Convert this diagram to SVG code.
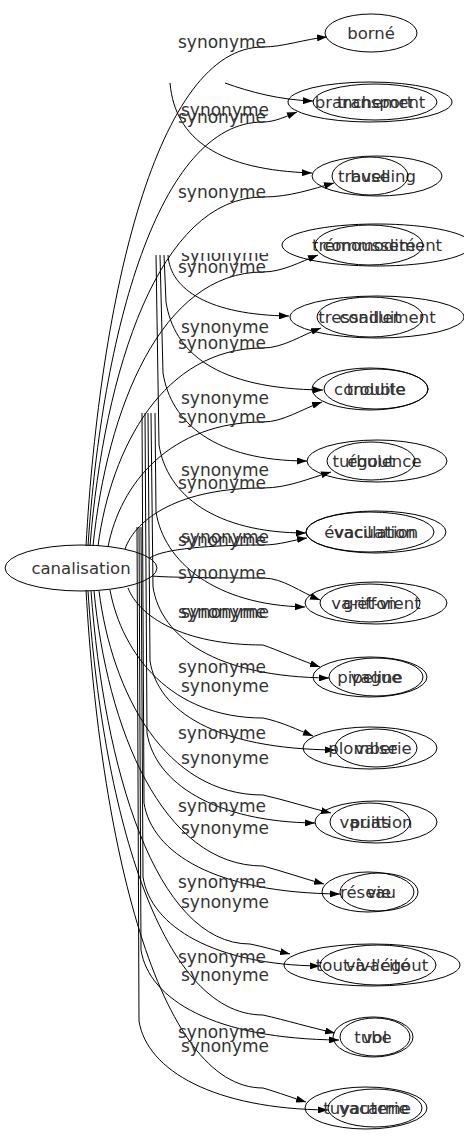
<svg xmlns="http://www.w3.org/2000/svg" width="464" height="1139" viewBox="0 0 464 1139">
<style>
.n ellipse{fill:none;stroke:#000;stroke-width:1}
.n text{font-family:"DejaVu Sans",sans-serif;font-size:16.5px;fill:#333;text-anchor:middle}
.e path{fill:none;stroke:#000;stroke-width:1;marker-end:url(#ah)}
.lb text{font-family:"DejaVu Sans",sans-serif;font-size:17px;fill:#333;text-anchor:middle}
</style>
<defs>
<marker id="ah" markerWidth="10" markerHeight="7" refX="10" refY="3.5" orient="auto" markerUnits="userSpaceOnUse"><path d="M0,0 L10,3.5 L0,7 z" fill="#000"/></marker>
<clipPath id="cut255"><rect x="150" y="253" width="150" height="30"/></clipPath>
</defs>
<rect width="464" height="1139" fill="#fff"/>
<g class="e" id="edges">
<path d="M86,546 C100,297 157,47 263,47 C283,47 305,39 327,37"/>
<path d="M88,546 C102,334 158,122 263,122 C275,122 287,116 297,112"/>
<path d="M90,546 C104,371 159,197 263,197 C290,197 312,189 334,183"/>
<path d="M93,546 C107,409 161,272 263,272 C282,272 300,262 318,255"/>
<path d="M98,546 C111,447 164,348 263,348 C283,348 302,335 321,328"/>
<path d="M108,547 C120,484 170,422 263,422 C283,422 302,409 322,402"/>
<path d="M125,549 C136,518 180,488 263,488 C288,488 310,478 331,472"/>
<path d="M150,558 C159,551 195,545 263,545 C280,545 293,540 307,538"/>
<path d="M152,576 C161,577 198,578 263,578 C283,578 300,592 320,600"/>
<path d="M128,588 C139,616 182,645 263,645 C280,651 300,660 320,667"/>
<path d="M110,590 C122,654 171,718 263,718 C282,722 298,730 313,736"/>
<path d="M99,591 C112,693 165,795 263,795 C285,800 310,808 331,813"/>
<path d="M94,591 C107,728 162,866 263,866 C282,871 305,879 324,884"/>
<path d="M91,591 C104,767 155,944 250,944 C265,947 278,951 290,954"/>
<path d="M88,591 C102,803 158,1015 263,1015 C285,1020 312,1028 335,1033"/>
<path d="M86,590 C100,839 157,1088 263,1088 C280,1093 293,1098 306,1102"/>
<path d="M225,83 C250,92 280,100 313,101"/>
<path d="M170,83 C175,140 220,170 312,173"/>
<path d="M168,255 C170,290 210,315 289,316"/>
<path d="M164,255 L166,302 C174,352 215,389 323,390"/>
<path d="M160,255 L163,373 C171,423 215,461 307,461"/>
<path d="M156,255 L159,445 C167,495 215,533 306,533"/>
<path d="M155,413 L156,512 C164,562 215,605 305,607"/>
<path d="M151,413 L153,587 C161,637 215,677 329,678"/>
<path d="M148,413 L150,661 C158,711 215,749 335,750"/>
<path d="M145,413 L147,733 C155,783 215,822 315,823"/>
<path d="M142,413 L144,803 C152,853 215,893 340,894"/>
<path d="M141,527 L143,877 C151,927 215,965 320,966"/>
<path d="M139,527 L141,950 C149,1000 215,1039 339,1040"/>
<path d="M137,527 L139,1021 C147,1071 215,1109 328,1110"/>
</g>
<g class="lb" id="labels">
<text x="222" y="48">synonyme</text>
<text x="222" y="123">synonyme</text>
<text x="222" y="198">synonyme</text>
<text x="222" y="273">synonyme</text>
<text x="222" y="349">synonyme</text>
<text x="222" y="423">synonyme</text>
<text x="222" y="489">synonyme</text>
<text x="222" y="546">synonyme</text>
<text x="222" y="579">synonyme</text>
<text x="222" y="618">synonyme</text>
<text x="222" y="673">synonyme</text>
<text x="222" y="739">synonyme</text>
<text x="222" y="812">synonyme</text>
<text x="222" y="888">synonyme</text>
<text x="222" y="963">synonyme</text>
<text x="222" y="1038">synonyme</text>
<text x="225" y="116">synonyme</text>
<text x="225" y="261" clip-path="url(#cut255)">synonyme</text>
<text x="225" y="333">synonyme</text>
<text x="225" y="404">synonyme</text>
<text x="225" y="476">synonyme</text>
<text x="225" y="543">synonyme</text>
<text x="225" y="618">synonyme</text>
<text x="225" y="692">synonyme</text>
<text x="225" y="764">synonyme</text>
<text x="225" y="834">synonyme</text>
<text x="225" y="908">synonyme</text>
<text x="225" y="981">synonyme</text>
<text x="225" y="1052">synonyme</text>
</g>
<g class="n" id="n-canalisation"><ellipse cx="81" cy="568" rx="76" ry="23"/><text x="81" y="574">canalisation</text></g>
<g class="n" id="n-borne"><ellipse cx="371" cy="33" rx="46" ry="19"/><text x="371" y="39">borné</text></g>
<g class="n" id="n-branchement"><ellipse cx="370" cy="102" rx="82" ry="20"/><text x="370" y="108">branchement</text></g>
<g class="n" id="n-transport"><ellipse cx="375" cy="102" rx="62" ry="18"/><text x="375" y="108">transport</text></g>
<g class="n" id="n-travelling"><ellipse cx="377" cy="176" rx="65" ry="20"/><text x="377" y="182">travelling</text></g>
<g class="n" id="n-buse"><ellipse cx="370" cy="176" rx="38" ry="19"/><text x="370" y="182">buse</text></g>
<g class="n" id="n-tremoussement"><ellipse cx="377" cy="245" rx="95" ry="21"/><text x="377" y="251">trémoussement</text></g>
<g class="n" id="n-commodite"><ellipse cx="369" cy="245" rx="54" ry="20"/><text x="369" y="251">commodité</text></g>
<g class="n" id="n-tressaillement"><ellipse cx="377" cy="317" rx="87" ry="21"/><text x="377" y="323">tressaillement</text></g>
<g class="n" id="n-conduit"><ellipse cx="370" cy="317" rx="53" ry="20"/><text x="370" y="323">conduit</text></g>
<g class="n" id="n-conduite"><ellipse cx="370" cy="389" rx="58" ry="21"/><text x="370" y="395">conduite</text></g>
<g class="n" id="n-trouble"><ellipse cx="376" cy="389" rx="52" ry="20"/><text x="376" y="395">trouble</text></g>
<g class="n" id="n-turbulence"><ellipse cx="377" cy="461" rx="70" ry="21"/><text x="377" y="467">turbulence</text></g>
<g class="n" id="n-egout"><ellipse cx="371" cy="461" rx="44" ry="19"/><text x="371" y="467">égout</text></g>
<g class="n" id="n-vacillation"><ellipse cx="376" cy="532" rx="70" ry="21"/><text x="376" y="538">vacillation</text></g>
<g class="n" id="n-evacuation"><ellipse cx="370" cy="532" rx="64" ry="20"/><text x="370" y="538">évacuation</text></g>
<g class="n" id="n-vaetvient"><ellipse cx="376" cy="603" rx="71" ry="21"/><text x="376" y="609">va-et-vient</text></g>
<g class="n" id="n-griffon"><ellipse cx="370" cy="603" rx="50" ry="19"/><text x="370" y="609">griffon</text></g>
<g class="n" id="n-pipeline"><ellipse cx="370" cy="677" rx="57" ry="20"/><text x="370" y="683">pipeline</text></g>
<g class="n" id="n-vague"><ellipse cx="376" cy="677" rx="47" ry="19"/><text x="376" y="683">vague</text></g>
<g class="n" id="n-plomberie"><ellipse cx="370" cy="748" rx="67" ry="21"/><text x="370" y="754">plomberie</text></g>
<g class="n" id="n-valse"><ellipse cx="376" cy="748" rx="41" ry="19"/><text x="376" y="754">valse</text></g>
<g class="n" id="n-variation"><ellipse cx="376" cy="822" rx="61" ry="21"/><text x="376" y="828">variation</text></g>
<g class="n" id="n-puits"><ellipse cx="370" cy="822" rx="40" ry="19"/><text x="370" y="828">puits</text></g>
<g class="n" id="n-reseau"><ellipse cx="368" cy="892" rx="46" ry="20"/><text x="368" y="898">réseau</text></g>
<g class="n" id="n-vie"><ellipse cx="379" cy="892" rx="39" ry="19"/><text x="379" y="898">vie</text></g>
<g class="n" id="n-toutalegout"><ellipse cx="372" cy="965" rx="88" ry="21"/><text x="372" y="971">tout-à-l'égout</text></g>
<g class="n" id="n-vivacite"><ellipse cx="378" cy="965" rx="58" ry="20"/><text x="378" y="971">vivacité</text></g>
<g class="n" id="n-tube"><ellipse cx="373" cy="1037" rx="40" ry="20"/><text x="373" y="1043">tube</text></g>
<g class="n" id="n-vol"><ellipse cx="375" cy="1037" rx="35" ry="19"/><text x="375" y="1043">vol</text></g>
<g class="n" id="n-tuyauterie"><ellipse cx="366" cy="1108" rx="61" ry="21"/><text x="366" y="1114">tuyauterie</text></g>
<g class="n" id="n-vacarme"><ellipse cx="375" cy="1108" rx="47" ry="19"/><text x="375" y="1114">vacarme</text></g>
</svg>
